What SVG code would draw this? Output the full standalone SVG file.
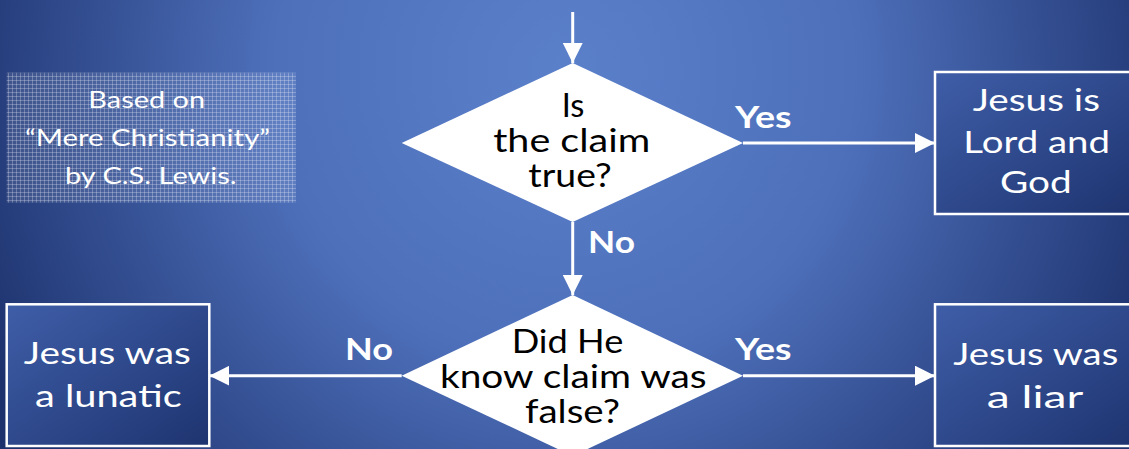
<svg xmlns="http://www.w3.org/2000/svg" width="1129" height="449" viewBox="0 0 1129 449">
<defs>
<radialGradient id="bg" gradientUnits="userSpaceOnUse" cx="565" cy="70" r="640">
<stop offset="0" stop-color="#5b80ca"/>
<stop offset="0.45" stop-color="#4e70bb"/>
<stop offset="1" stop-color="#1d326d"/>
</radialGradient>
<linearGradient id="boxfill" x1="0" y1="0" x2="1" y2="1">
<stop offset="0" stop-color="#3f5ea8"/>
<stop offset="1" stop-color="#1e3470"/>
</linearGradient>
<pattern id="grid" width="4" height="4" patternUnits="userSpaceOnUse">
<rect width="4" height="4" fill="#ffffff" fill-opacity="0.1"/>
<rect width="4" height="1" fill="#ffffff" fill-opacity="0.25"/>
<rect width="1" height="4" fill="#ffffff" fill-opacity="0.25"/>
</pattern>
<marker id="arrow" viewBox="0 0 20 20" refX="20" refY="10" markerWidth="20" markerHeight="20" markerUnits="userSpaceOnUse" orient="auto">
<path d="M0,0 L20,10 L0,20 Z" fill="#ffffff"/>
</marker>
<style>
.conn{stroke:#ffffff;stroke-width:3;fill:none;}
.dia{fill:#ffffff;}
.box{fill:url(#boxfill);stroke:#ffffff;stroke-width:2.5;}
.dt{font-family:Lato,"Liberation Sans",sans-serif;font-size:33px;fill:#000000;text-anchor:middle;}
.bt{font-family:Lato,"Liberation Sans",sans-serif;font-size:31px;fill:#ffffff;text-anchor:middle;}
.lbl{font-family:Lato,"Liberation Sans",sans-serif;font-size:30px;font-weight:bold;fill:#ffffff;text-anchor:middle;}
.note{font-family:Lato,"Liberation Sans",sans-serif;font-size:23px;fill:#ffffff;text-anchor:middle;}
</style>
</defs>
<rect x="0" y="0" width="1129" height="449" fill="url(#bg)"/>

<g id="connectors">
<line class="conn" x1="572.7" y1="12" x2="572.7" y2="63" marker-end="url(#arrow)"/>
<line class="conn" x1="743" y1="143" x2="935" y2="143" marker-end="url(#arrow)"/>
<line class="conn" x1="572.7" y1="222" x2="572.7" y2="295" marker-end="url(#arrow)"/>
<line class="conn" x1="401.7" y1="375.7" x2="209.3" y2="375.7" marker-end="url(#arrow)"/>
<line class="conn" x1="743" y1="375.7" x2="935" y2="375.7" marker-end="url(#arrow)"/>
<text class="lbl" x="763.3" y="128" textLength="56.7" lengthAdjust="spacingAndGlyphs">Yes</text>
<text class="lbl" x="611.5" y="253" textLength="47" lengthAdjust="spacingAndGlyphs">No</text>
<text class="lbl" x="369" y="360" textLength="48" lengthAdjust="spacingAndGlyphs">No</text>
<text class="lbl" x="763.3" y="360" textLength="56.7" lengthAdjust="spacingAndGlyphs">Yes</text>
</g>

<g id="note">
<rect x="6.7" y="72.7" width="289.3" height="130" fill="url(#grid)"/>
<text class="note" x="146.7" y="108" textLength="116.7" lengthAdjust="spacingAndGlyphs">Based on</text>
<text class="note" x="147.5" y="146" textLength="245" lengthAdjust="spacingAndGlyphs">“Mere Christianity”</text>
<text class="note" x="150.8" y="184" textLength="171.7" lengthAdjust="spacingAndGlyphs">by C.S. Lewis.</text>
</g>

<g id="q1">
<polygon class="dia" points="572.7,63 743,143 572.7,222 401.7,143"/>
<text class="dt" x="573" y="116.7" textLength="22.7" lengthAdjust="spacingAndGlyphs">Is</text>
<text class="dt" x="571.7" y="151.7" textLength="157" lengthAdjust="spacingAndGlyphs">the claim</text>
<text class="dt" x="570" y="186.7" textLength="83.3" lengthAdjust="spacingAndGlyphs">true?</text>
</g>

<g id="q2">
<polygon class="dia" points="572.7,295 743,375.7 572.7,456 401.7,375.7"/>
<text class="dt" x="567.5" y="353.3" textLength="111.7" lengthAdjust="spacingAndGlyphs">Did He</text>
<text class="dt" x="573.3" y="388.3" textLength="266.7" lengthAdjust="spacingAndGlyphs">know claim was</text>
<text class="dt" x="572.5" y="423.3" textLength="95" lengthAdjust="spacingAndGlyphs">false?</text>
</g>

<g id="lord">
<rect class="box" x="935" y="72" width="200" height="142"/>
<text class="bt" x="1036.3" y="111" textLength="127.3" lengthAdjust="spacingAndGlyphs">Jesus is</text>
<text class="bt" x="1036.7" y="153" textLength="146.7" lengthAdjust="spacingAndGlyphs">Lord and</text>
<text class="bt" x="1035.8" y="193" textLength="71.7" lengthAdjust="spacingAndGlyphs">God</text>
</g>

<g id="lunatic">
<rect class="box" x="6.7" y="304.3" width="202.6" height="141.7"/>
<text class="bt" x="107.3" y="364" textLength="167" lengthAdjust="spacingAndGlyphs">Jesus was</text>
<text class="bt" x="108.3" y="406.5" textLength="146.7" lengthAdjust="spacingAndGlyphs">a lunatic</text>
</g>

<g id="liar">
<rect class="box" x="935" y="304.3" width="200" height="141.7"/>
<text class="bt" x="1035.8" y="365" textLength="165" lengthAdjust="spacingAndGlyphs">Jesus was</text>
<text class="bt" x="1035" y="408" textLength="96.7" lengthAdjust="spacingAndGlyphs">a liar</text>
</g>
</svg>
